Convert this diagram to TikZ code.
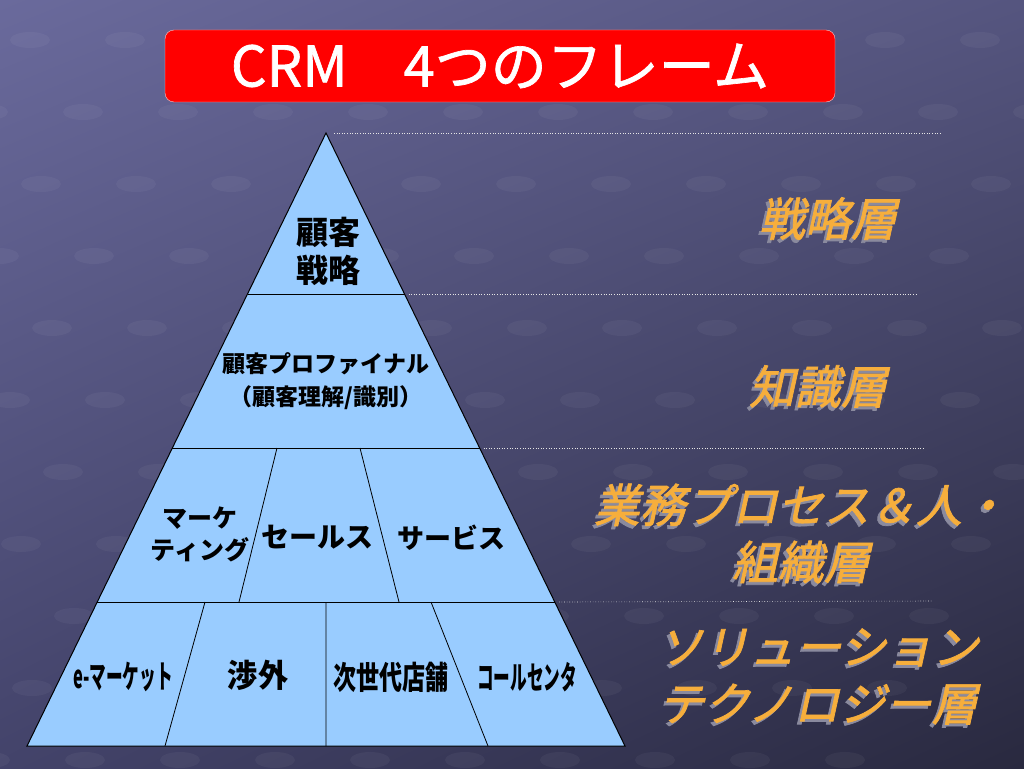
\documentclass[tikz,border=0pt]{standalone}
\usepackage{fontspec}
\setmainfont{Noto Sans CJK JP}
\newfontfamily\slantjp{Noto Sans CJK JP}[FakeSlant=0.22,FakeBold=1.5]
\newfontfamily\titlejp{Noto Sans CJK JP}[FakeBold=1.2]
\usepackage{graphicx}
\usepackage{tikz}
\usetikzlibrary{positioning,shadings}
\definecolor{bgtl}{HTML}{6A6A9C}
\definecolor{bgtr}{HTML}{55557F}
\definecolor{bgbl}{HTML}{43436A}
\definecolor{bgbr}{HTML}{29293F}
\definecolor{pyrblue}{HTML}{99CCFF}
\definecolor{titleedge}{HTML}{FFC8C8}
\definecolor{layergold}{HTML}{F6AE3C}
\definecolor{layershade}{HTML}{8A8A9E}
\tikzset{every node/.style={inner sep=0pt},
  cell/.style={font=\bfseries\fontsize{28}{38}\selectfont,align=center},
  narrowcell/.style={font=\bfseries\fontsize{32}{38}\selectfont},
  layer/.style={font=\slantjp\fontsize{46}{57}\selectfont,text=layergold,align=center},
  sep/.style={white!80!gray,dotted,line width=0.6pt}}
\newcommand{\Narrow}[2]{\scalebox{#1}[1]{#2}}
\newcommand{\Shd}[1]{\makebox[0pt][l]{\kern-3pt\raisebox{-3pt}{\textcolor{layershade}{#1}}}#1}

\begin{document}
\begin{tikzpicture}[x=1pt,y=-1pt]
\useasboundingbox (0,0) rectangle (1024,768);
% background
\shade[upper left=bgtl,upper right=bgtr,lower left=bgbl,lower right=bgbr] (0,0) rectangle (1024,768);
\foreach \r in {0,...,10}
  \foreach \c in {0,...,13}
    \fill[white,opacity=0.045] (\c*95-\r*42+30,\r*72+40) ellipse (20 and 8);
%
\node (title) [draw=titleedge,fill=red,rounded corners=9pt,minimum width=670pt,minimum height=72pt,text=white,font=\titlejp\fontsize{56}{60}\selectfont] at (500,66) {CRM　4つのフレーム};
%
% pyramid
\coordinate (apex) at (326,133);
\coordinate (bl) at (27,746);
\coordinate (br) at (625,746);
\coordinate (l1a) at (247.5,294); \coordinate (l1b) at (404.5,294);
\coordinate (l2a) at (172.4,448); \coordinate (l2b) at (479.6,448);
\coordinate (l3a) at (97,602);    \coordinate (l3b) at (555,602);
\fill[pyrblue] (apex) -- (br) -- (bl) -- cycle;
\draw[line width=1pt] (apex) -- (br) -- (bl) -- cycle;
\draw[line width=1pt] (l1a) -- (l1b) (l2a) -- (l2b) (l3a) -- (l3b);
% cell dividers
\coordinate (d1a) at (277,448); \coordinate (d1b) at (239,602);
\coordinate (d2a) at (360,448); \coordinate (d2b) at (399,602);
\coordinate (d3a) at (205,602); \coordinate (d3b) at (165,746);
\coordinate (d4a) at (326,602); \coordinate (d4b) at (326,746);
\coordinate (d5a) at (431,602); \coordinate (d5b) at (488,746);
\draw[line width=0.8pt] (d1a) -- (d1b) (d2a) -- (d2b) (d3a) -- (d3b) (d4a) -- (d4b) (d5a) -- (d5b);
%
% separators
\coordinate (s0) at (940,133);
\coordinate (s1) at (918,294);
\coordinate (s2) at (924,448);
\coordinate (s3) at (932,601);
\draw[sep] ([xshift=8pt]apex) -- (s0);
\draw[sep] ([xshift=4pt]l1b) -- (s1);
\draw[sep] ([xshift=4pt]l2b) -- (s2);
\draw[sep] ([xshift=4pt]l3b) -- (s3);
%
\node (strat) [cell,font=\bfseries\fontsize{32}{38}\selectfont] at (328,251) {顧客\\戦略};
\node (know) [cell,font=\bfseries\fontsize{23}{33}\selectfont] at (326,381) {顧客プロファイナル\\（顧客理解/識別）};
\node (mkt) [cell,font=\bfseries\fontsize{25}{32}\selectfont] at (200,534) {マーケ\\ティング};
\node (sales) [cell] at (317,537) {セールス};
\node (serv) [cell,font=\bfseries\fontsize{27}{32}\selectfont] at (451,538) {サービス};
\node (emkt) [narrowcell] at (123,677) {\Narrow{0.52}{e-マーケット}};
\node (pr) [narrowcell] at (258,675) {\Narrow{0.94}{渉外}};
\node (store) [narrowcell] at (391,677) {\Narrow{0.72}{次世代店舗}};
\node (call) [narrowcell] at (527,677) {\Narrow{0.52}{コールセンタ}};
%
% layer names
\node (lay1) [layer] at (828,220) {\Shd{戦略層}};
\node (lay2) [layer] at (818,388) {\Shd{知識層}};
\node (lay3) [layer] at (801,535) {\Shd{業務プロセス＆人・}\\\Shd{組織層}};
\node (lay4) [layer] at (818,678) {\Shd{ソリューション}\\\Shd{テクノロジー層}};
\end{tikzpicture}
\end{document}
